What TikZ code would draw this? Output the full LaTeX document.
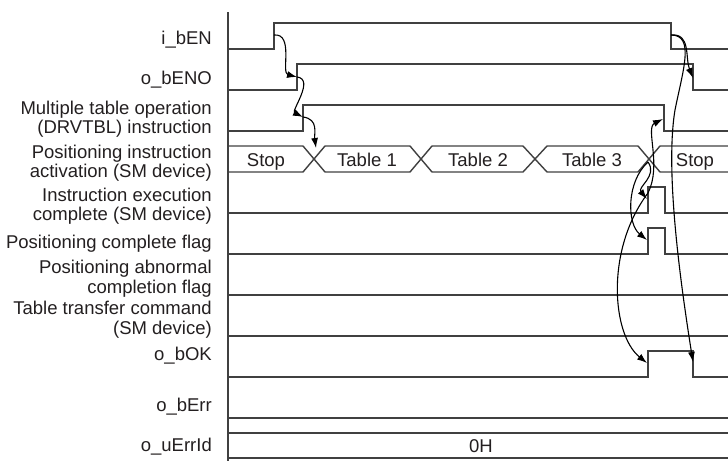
\documentclass[tikz,border=0pt]{standalone}
\usepackage{fontspec}
\setmainfont{Liberation Sans}
\usepackage{xcolor}
\usepackage{tikz}
\usetikzlibrary{arrows.meta}
\definecolor{tline}{HTML}{404040}
\definecolor{ttext}{HTML}{231F20}

\begin{document}
\begin{tikzpicture}[x=1pt, y=-1pt,
  sig/.style={draw=tline, line width=1.4pt},
  lbl/.style={font=\fontsize{18.5}{19.3}\selectfont, text=ttext, anchor=base east, align=right, inner sep=0pt},
  val/.style={font=\fontsize{18.5}{19.3}\selectfont, text=ttext, anchor=base, inner sep=0pt},
  cause/.style={draw=black, line width=1.1pt, -{Latex[length=10pt,width=7pt]}}]
\useasboundingbox (0,0) rectangle (728,461);
% time axis
\draw[tline, line width=1.2pt] (228,12) -- (228,461);
% signal names (base = last line)
\node[lbl] (n-en)  at (212,44.5) {i\_bEN};
\node[lbl] (n-eno) at (212,84.5) {o\_bENO};
\node[lbl] (n-drv) at (212,133.5) {Multiple table operation\\(DRVTBL) instruction};
\node[lbl] (n-act) at (212,177.5) {Positioning instruction\\activation (SM device)};
\node[lbl] (n-exe) at (212,220.5) {Instruction execution\\complete (SM device)};
\node[lbl] (n-fin) at (212,248) {Positioning complete flag};
\node[lbl] (n-abn) at (212,293) {Positioning abnormal\\completion flag};
\node[lbl] (n-tbl) at (212,334) {Table transfer command\\(SM device)};
\node[lbl] (n-ok)  at (212,360) {o\_bOK};
\node[lbl] (n-err) at (212,411.5) {o\_bErr};
\node[lbl] (n-id)  at (212,451) {o\_uErrId};
% waveforms
\draw[sig] (228,49) -- (274,49) -- (274,23) -- (671,23) -- (671,49) -- (728,49);
\draw[sig] (228,90) -- (297,90) -- (297,64) -- (693,64) -- (693,90) -- (728,90);
\draw[sig] (228,131) -- (303,131) -- (303,105) -- (664,105) -- (664,131) -- (728,131);
\draw[sig] (228,146) -- (303,146) -- (325,172) -- (410,172) -- (432,146) -- (523,146)
  -- (547,172) -- (638,172) -- (660,146) -- (728,146);
\draw[sig] (228,172) -- (303,172) -- (325,146) -- (410,146) -- (432,172) -- (523,172)
  -- (547,146) -- (638,146) -- (660,172) -- (728,172);
\node[val] (v-stop1) at (266,166) {Stop};
\node[val] (v-tab1)  at (367,166) {Table 1};
\node[val] (v-tab2)  at (478,166) {Table 2};
\node[val] (v-tab3)  at (592,166) {Table 3};
\node[val] (v-stop2) at (695,166) {Stop};
\draw[sig] (228,213) -- (648,213) -- (648,187) -- (665,187) -- (665,213) -- (728,213);
\draw[sig] (228,254) -- (648,254) -- (648,228) -- (665,228) -- (665,254) -- (728,254);
\draw[sig] (228,295) -- (728,295);
\draw[sig] (228,336) -- (728,336);
\draw[sig] (228,377) -- (648,377) -- (648,351) -- (693,351) -- (693,377) -- (728,377);
\draw[sig] (228,418) -- (728,418);
\draw[sig] (228,433) -- (728,433);
\draw[sig] (228,458) -- (728,458);
\node[val] (v-id) at (481,452) {0H};
% event points
\coordinate (en-up)   at (274,35);
\coordinate (eno-up)  at (297,77);
\coordinate (drv-up)  at (303,117);
\coordinate (act-x1)  at (316,148);
\coordinate (act-x4)  at (648,162);
\coordinate (exe-rise) at (648,193);
\coordinate (exe-up)  at (647,199);
\coordinate (fin-up)  at (647,240);
\coordinate (drv-dn)  at (663,119);
\coordinate (en-dn)   at (671,35);
\coordinate (eno-dn)  at (693,78);
\coordinate (ok-up)   at (647,363);
\coordinate (ok-dn)   at (693,362);
% cause and effect
\draw[cause] (en-up) .. controls +(20,-2) and +(-16,-4) .. (eno-up);
\draw[cause] (eno-up) .. controls +(18,2) and +(-12,-6) .. (drv-up);
\draw[cause] (drv-up) .. controls +(16,2) and +(-2,-14) .. (act-x1);
\draw[cause] (en-dn) .. controls +(20,-2) and +(-8,-20) .. (eno-dn);
\draw[cause] (en-dn) .. controls +(24,0) and +(8,-40) .. (675,110)
  .. controls +(-10,60) and +(-13,-82) .. (ok-dn);
\draw[cause] (act-x4) .. controls +(10,14) and +(-10,-12) .. (exe-up);
\draw[cause] (act-x4) .. controls +(-22,20) and +(-20,-16) .. (fin-up);
\draw[cause] (exe-rise) .. controls +(14,-28) and +(-18,9) .. (drv-dn);
\draw[cause] (exe-rise) .. controls +(-43,57) and +(-35,-28) .. (ok-up);
\end{tikzpicture}
\end{document}
